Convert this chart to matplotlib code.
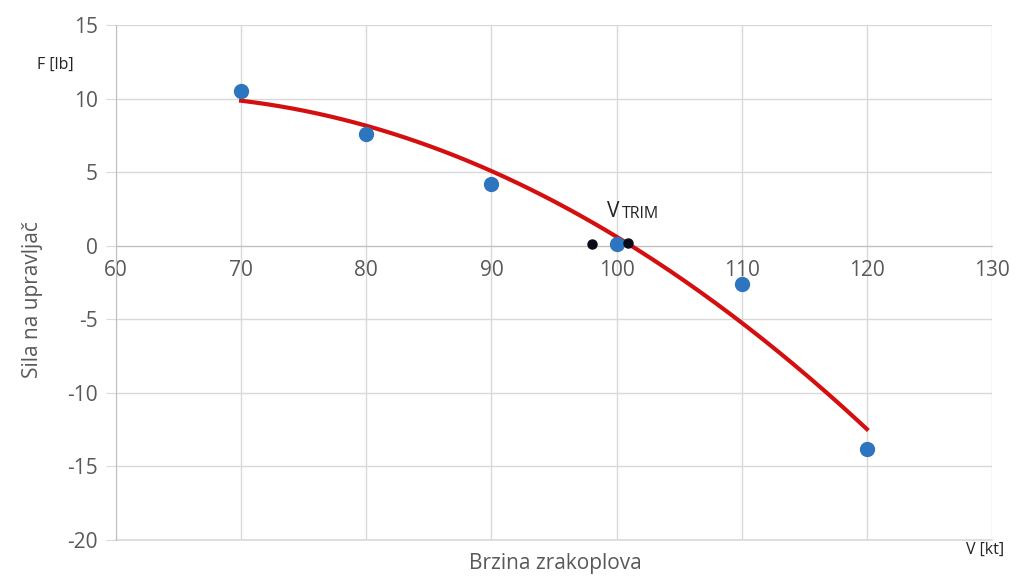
import numpy as np
import matplotlib
matplotlib.use("Agg")
import matplotlib.pyplot as plt

speed_kt = [70, 80, 90, 100, 110, 120]
force_lb = [10.5, 7.6, 4.2, 0.1, -2.6, -13.8]
trim_x = [98.0, 100.9]
trim_y = [0.1, 0.2]
x_ticks = [60, 70, 80, 90, 100, 110, 120, 130]
y_ticks = [-20, -15, -10, -5, 0, 5, 10, 15]

plt.rcParams['font.family'] = ['Open Sans', 'DejaVu Sans']
plt.rcParams['axes.unicode_minus'] = False
fig = plt.figure(figsize=(10.19, 5.76), dpi=100)
ax = fig.add_axes([0.1138, 0.0625, 0.8597, 0.8941])

ax.set_xlim(60, 130)
ax.set_ylim(-20, 15)
ax.set_xticks(x_ticks)
ax.set_yticks(y_ticks)
ax.grid(True, color='#d9d9d9', linewidth=1)
ax.set_axisbelow(True)
ax.axhline(y_ticks[0], color='#d9d9d9', linewidth=1.2, clip_on=False, zorder=0)
for s in ['top', 'right']:
    ax.spines[s].set_visible(False)
ax.spines['left'].set_color('#bfbfbf')
ax.spines['bottom'].set_position(('data', 0))
ax.spines['bottom'].set_color('#bfbfbf')
ax.tick_params(axis='x', length=0, labelsize=15, labelcolor='#595959', pad=10)
ax.tick_params(axis='y', length=7, color='#d9d9d9', labelsize=15, labelcolor='#595959', pad=6)

coef = np.polyfit(speed_kt, force_lb, 2)
xs = np.linspace(min(speed_kt), max(speed_kt), 200)
ax.plot(xs, np.polyval(coef, xs), color='#d40f0f', linewidth=3, zorder=3)
ax.plot(speed_kt, force_lb, 'o', color='#2e75c0', markersize=10, zorder=4)
ax.plot(trim_x, trim_y, 'o', color='#0a0a1a', markersize=6.5, zorder=5)

ax.text(99.2, 2.3, 'V', fontsize=15, color='#222222', ha='left', va='center')
ax.text(100.45, 2.15, 'TRIM', fontsize=11.5, color='#222222', ha='left', va='center')

fig.text(0.036, 0.887, 'F [lb]', fontsize=11.5, color='#222222', va='center')
fig.text(0.967, 0.045, 'V [kt]', fontsize=11.5, color='#222222', va='center', ha='center')
fig.text(0.032, 0.48, 'Sila na upravljač', fontsize=15, color='#595959', rotation=90, va='center', ha='center')
fig.text(0.545, 0.022, 'Brzina zrakoplova', fontsize=15, color='#595959', va='center', ha='center')

fig.savefig('out.png', dpi=100)
